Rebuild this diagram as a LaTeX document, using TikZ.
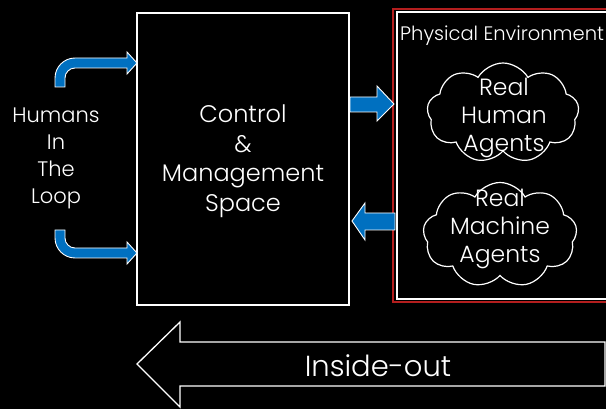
\documentclass[tikz,border=0pt]{standalone}
\usepackage{fontspec}
\setmainfont{Poppins Light}
\usetikzlibrary{shapes.symbols}
\definecolor{arrowblue}{RGB}{0,112,192}
\definecolor{envred}{RGB}{180,30,30}
\tikzset{
  frame/.style={draw=white, line width=1.3pt},
  blockarrow/.style={fill=arrowblue, draw=white, line width=0.9pt, line join=miter},
  label/.style={text=white, align=center, inner sep=0pt, font=\fontsize{23.5}{28}\selectfont},
  puff/.style={cloud, cloud puffs=9, cloud puff arc=120, cloud ignores aspect,
    draw=white, line width=1.2pt, inner sep=0pt}
}
\begin{document}
\begin{tikzpicture}[x=1pt, y=-1pt]
  % page and background
  \fill[black] (0,0) rectangle (606,409);
  \useasboundingbox (0,0) rectangle (606,409);

  % control and management box
  \draw[frame] (137,13) rectangle (349,305);
  \node[label, font=\fontsize{24}{29.5}\selectfont] (ctrl) at (243,161) {Control\\\&\\Management\\Space};

  % physical environment box with red outer rim
  \draw[envred, line width=2pt] (393,9) rectangle (612,302);
  \draw[frame] (397,12) rectangle (612,299);
  \node[label, font=\fontsize{19.5}{22}\selectfont, anchor=west] (env) at (400,36) {Physical Environment};

  % agents
  \node[puff, minimum width=152pt, minimum height=100pt] (hcloud) at (503,113) {};
  \node[label] (hagents) at (504,118) {Real\\Human\\Agents};
  \node[puff, minimum width=154pt, minimum height=105pt] (mcloud) at (500,235) {};
  \node[label] (magents) at (500,229) {Real\\Machine\\Agents};

  % humans in the loop
  \node[label, font=\fontsize{21}{27}\selectfont] (hitl) at (56,158) {Humans\\In\\The\\Loop};

  % bent input arrows
  \draw[blockarrow] (55,87) -- (55,78) .. controls (55,67) and (64,58) .. (75,58)
    -- (127,58) -- (127,52) -- (137,63) -- (127,74) -- (127,68) -- (75,68)
    .. controls (69.5,68) and (65,72.5) .. (65,78) -- (65,87) -- cycle;
  \draw[blockarrow] (55,230) -- (55,238) .. controls (55,249) and (64,258) .. (75,258)
    -- (127,258) -- (127,264) -- (137,253) -- (127,242) -- (127,248) -- (75,248)
    .. controls (69.5,248) and (65,243.5) .. (65,238) -- (65,230) -- cycle;

  % commands and feedback
  \draw[blockarrow] (350,97) -- (377,97) -- (377,86) -- (394,104) -- (377,121)
    -- (377,112) -- (350,112) -- cycle;
  \draw[blockarrow] (395,213) -- (365,213) -- (365,203) -- (352,221) -- (365,240)
    -- (365,230) -- (395,230) -- cycle;

  % inside-out arrow
  \draw[white, line width=1.3pt, line join=miter]
    (137,364) -- (180,322) -- (180,342) -- (605,342) -- (605,386) -- (180,386)
    -- (180,407) -- cycle;
  \node[label, font=\fontsize{29}{34}\selectfont] (io) at (378,366) {Inside-out};
\end{tikzpicture}
\end{document}
